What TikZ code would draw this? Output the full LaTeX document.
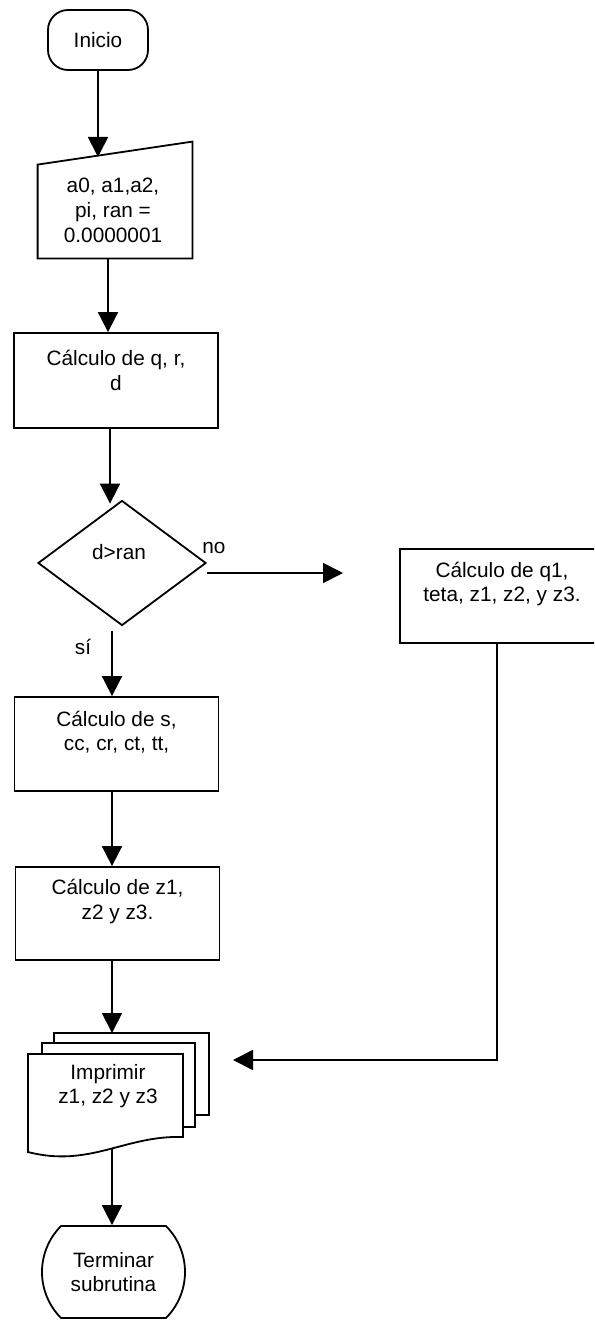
\documentclass[tikz,border=0pt]{standalone}
\usepackage{fontspec}
\setmainfont{Liberation Sans}
\usetikzlibrary{arrows.meta,shapes.geometric,shapes.misc}

\begin{document}
\begin{tikzpicture}[x=0.5pt,y=-0.5pt,
  every node/.style={font=\fontsize{10.4}{12.3}\selectfont},
  line/.style={line width=0.9pt},
  flow/.style={line width=0.9pt, -{Triangle[width=10pt,length=10pt]}},
  term/.style={rounded rectangle, rounded rectangle arc length=90, draw,
    line width=0.9pt, inner sep=0pt, align=center},
  startbox/.style={rectangle, rounded corners=10pt, draw, line width=0.9pt,
    inner sep=0pt, align=center},
  boxshape/.style={draw, line width=0.9pt, minimum width=102pt,
    minimum height=47pt, inner sep=0pt},
  txt/.style={align=center, inner sep=0pt},
]
\useasboundingbox (0,0) rectangle (594,1321);
\clip (0,0) rectangle (594,1321);

% start
\node[startbox, minimum width=50pt, minimum height=30pt] (ini) at (98,40) {Inicio};

% manual input of the data
\node[inner sep=0pt, minimum width=77pt, minimum height=58pt] (inp) at (115,200) {};
\draw[line] (inp.south west) -- ([yshift=-11.5pt]inp.north west)
  -- (inp.north east) -- (inp.south east) -- cycle;
\node[txt] (inpt) at ([xshift=-1pt,yshift=-5pt]inp.center)
  {a0, a1,a2,\\[0.2pt]pi, ran =\\[0.2pt]0.0000001};
\coordinate (inptop) at (98,157);

% process q, r, d
\node[boxshape, minimum height=47.5pt] (p1) at (116,380.5) {};
\node[txt] (p1t) at ([yshift=5pt]p1.center) {Cálculo de q, r,\\d};

% decision
\node[diamond, draw, line width=0.9pt, minimum width=84pt, minimum height=62.5pt,
  inner sep=0pt] (dec) at (122,563) {};
\node[txt] (dect) at (119,552) {d>ran};
\node[txt] (no) at (214,548) {no};
\node[txt] (si) at (83,647) {sí};

% branch "no"
\node[boxshape] (q1) at (502,596) {};
\node[txt] (q1t) at ([yshift=6pt]q1.center) {Cálculo de q1,\\teta, z1, z2, y z3.};
\coordinate (noend) at (343,573);

% branch "sí"
\node[boxshape] (p2) at (116.5,744) {};
\node[txt] (p2t) at ([yshift=6pt]p2.center) {Cálculo de s,\\cc, cr, ct, tt,};
\node[boxshape, minimum height=46.5pt] (p3) at (117.5,913.5) {};
\node[txt] (p3t) at ([yshift=6pt]p3.center) {Cálculo de z1,\\z2 y z3.};

% printed documents (stack of three sheets)
\draw[line, fill=white] (54,1033) rectangle (209,1115);
\draw[line, fill=white] (42,1043) rectangle (195,1127);
\draw[line, fill=white] (28,1054) -- (183,1054) -- (183,1137)
  .. controls (125,1135) and (90,1168) .. (28,1152) -- cycle;
\node[txt] (doc) at (108,1086) {Imprimir\\z1, z2 y z3};
\coordinate (doctop) at (112,1033);
\coordinate (docbot) at (112,1149);
\coordinate (ret) at (233,1060);

% end
\node[term, minimum width=71.5pt, minimum height=46pt] (fin) at (113.5,1272)
  {Terminar\\subrutina};

% connectors
\coordinate (col) at (112,0);
\draw[flow] (ini.south) -- (inptop);
\draw[flow] ([xshift=-3.5pt]inp.south) -- ([xshift=-3.5pt]inp.south |- p1.north);
\draw[flow] ([xshift=-3pt]p1.south) -- ([xshift=-3pt,yshift=-2pt]p1.south |- dec.north);
\draw[flow] ([yshift=-5pt]dec.east) -- (noend);
\draw[flow] ([yshift=-2.5pt]col |- dec.south) -- (col |- p2.north);
\draw[flow] (col |- p2.south) -- (col |- p3.north);
\draw[flow] (col |- p3.south) -- (doctop);
\draw[flow] (docbot) -- (col |- fin.north);
\draw[flow] ([xshift=-2.5pt]q1.south) |- (ret);
\end{tikzpicture}
\end{document}
